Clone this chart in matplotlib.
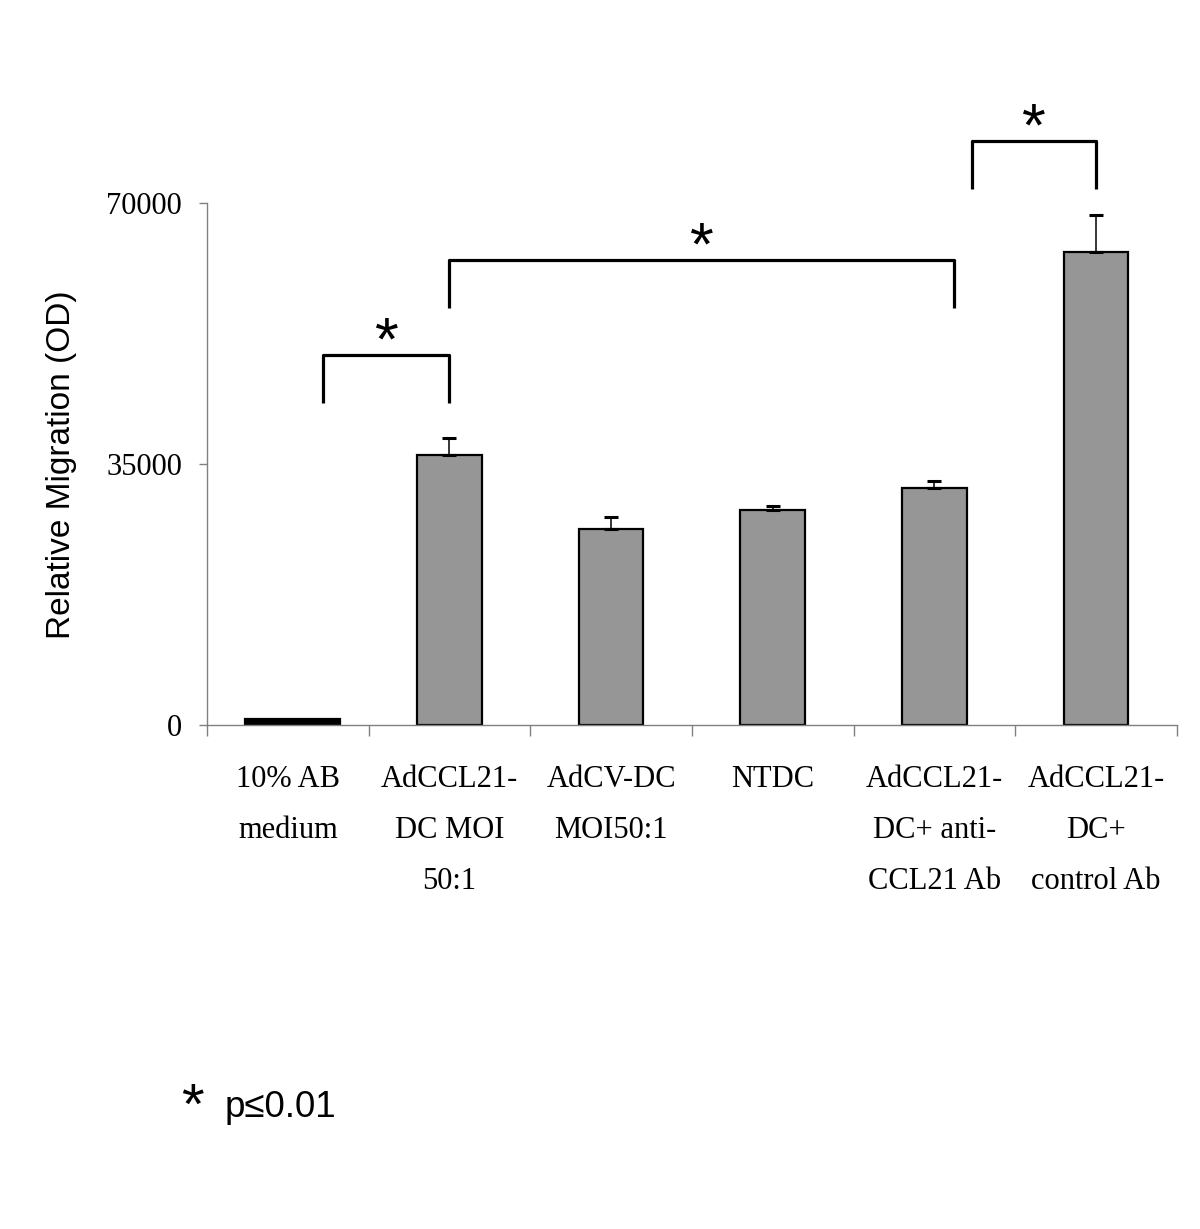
import matplotlib
matplotlib.use("Agg")
import matplotlib.pyplot as plt
import numpy as np

# values
groups = ["10% AB\nmedium", "AdCCL21-\nDC MOI\n50:1", "AdCV-DC\nMOI50:1",
          "NTDC", "AdCCL21-\nDC+ anti-\nCCL21 Ab", "AdCCL21-\nDC+\ncontrol Ab"]
migration = [800, 36200, 26300, 28750, 31700, 63400]
err = [0, 2220, 1520, 540, 970, 4900]
yticks = [0, 35000, 70000]

# significance brackets: (left x, right x, leg bottom, top)
brackets = [(0.22, 1.0, 43200, 49600),
            (1.0, 4.12, 55900, 62300),
            (4.235, 5.0, 71800, 78200)]

fig = plt.figure(figsize=(12, 12.29), dpi=100)
ax = fig.add_axes([0.1725, 0.4101, 0.8083, 0.425])

x = np.arange(len(groups))
widths = [0.59] + [0.40] * 5
colors = ["black"] + ["#969696"] * 5
ax.bar(x + np.array([0.03, 0, 0, 0, 0, 0]), migration, width=widths, color=colors,
       edgecolor="black", linewidth=1.6, zorder=2)
ax.errorbar(x[1:], migration[1:], yerr=[np.zeros(5), err[1:]], fmt="none",
            ecolor="black", elinewidth=1.1, capsize=5, capthick=2.2, zorder=3)

ax.set_xlim(-0.5, 5.5)
ax.set_ylim(0, 70000)
for s in ["top", "right"]:
    ax.spines[s].set_visible(False)
for s in ["left", "bottom"]:
    ax.spines[s].set_color("#808080")
    ax.spines[s].set_linewidth(1.0)

ax.set_yticks(yticks)
ax.set_yticklabels([str(v) for v in yticks], family="Liberation Serif", fontsize=22)
ax.tick_params(axis="y", direction="out", length=6, width=1, color="#808080", pad=12)

ax.set_xticks(x)
ax.set_xticklabels(groups, family="Liberation Serif", fontsize=22, linespacing=2.0,
                   va="top")
ax.tick_params(axis="x", which="major", length=0, pad=29)
ax.set_xticks(np.arange(-0.5, 6, 1), minor=True)
ax.tick_params(axis="x", which="minor", direction="out", length=8, width=1,
               color="#808080")

for xl, xr, yb, yt in brackets:
    ax.plot([xl, xl, xr, xr], [yb, yt, yt, yb], color="black", lw=2.3,
            clip_on=False, solid_capstyle="butt", zorder=4)
    ax.text((xl + xr) / 2, yt - 600, "*", ha="center", va="baseline",
            family="Liberation Sans", fontsize=44, clip_on=False)

fig.text(62 / 1200, 1 - 465 / 1229, "Relative Migration (OD)", rotation=90,
         ha="center", va="center", family="Liberation Sans", fontsize=24)
fig.text(181 / 1200, 1 - 1124 / 1229, "*", ha="left", va="baseline",
         family="Liberation Sans", fontsize=42)
fig.text(225 / 1200, 1 - 1117 / 1229, "p\u22640.01", ha="left", va="baseline",
         family="Liberation Sans", fontsize=26.5)

fig.savefig("out.png", dpi=100)
